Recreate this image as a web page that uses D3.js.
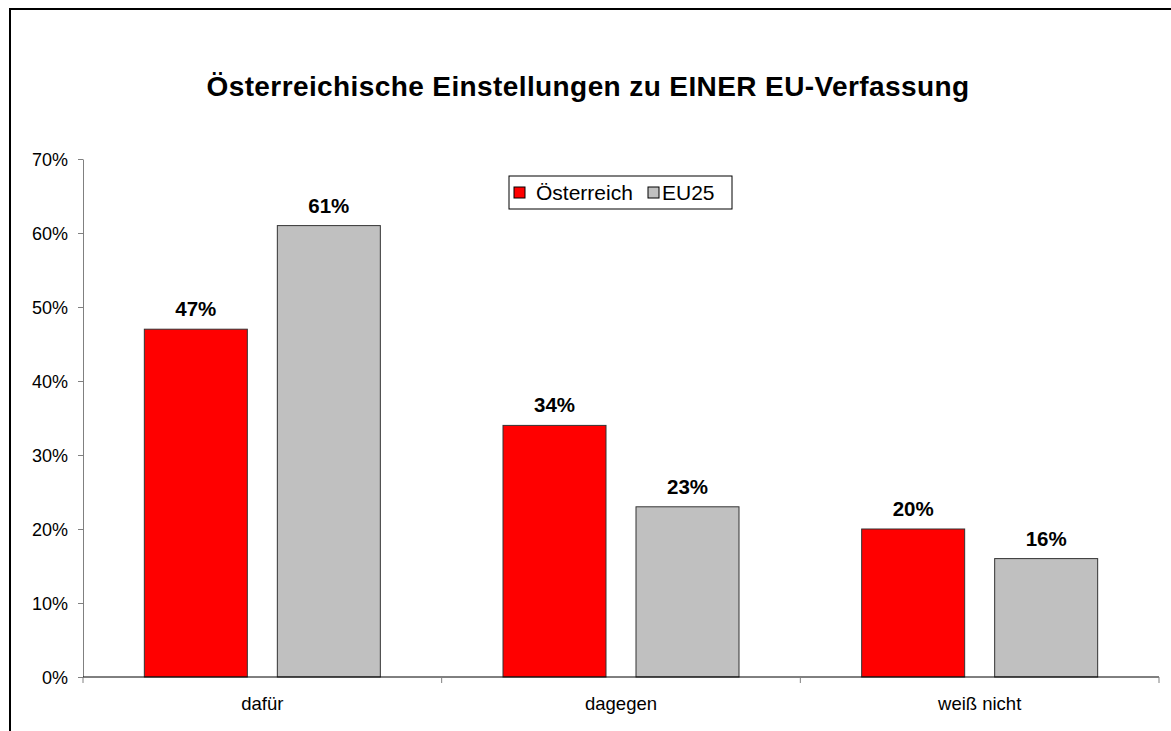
<!DOCTYPE html>
<html><head><meta charset="utf-8">
<script src="https://cdn.jsdelivr.net/npm/d3@7"></script>
<style>body{margin:0;background:#fff;}svg{display:block;font-family:"Liberation Sans",Arial,sans-serif;}</style>
</head><body>
<script>
const categories = ["dafür", "dagegen", "weiß nicht"];
const seriesNames = ["Österreich", "EU25"];
const austria = [47, 34, 20];
const eu25 = [61, 23, 16];
const yTicks = [0, 10, 20, 30, 40, 50, 60, 70];
const colors = ["#ff0000", "#c0c0c0"];

const W = 1171, H = 731;
const svg = d3.select("body").append("svg").attr("width", W).attr("height", H);

svg.append("rect").attr("x", 10).attr("y", 9).attr("width", 1170).attr("height", 740)
  .attr("fill", "#fff").attr("stroke", "#000").attr("stroke-width", 2);

const m = {left: 83, right: 1159, top: 159, bottom: 677};

svg.append("text").attr("x", 588).attr("y", 96).attr("text-anchor", "middle")
  .attr("font-size", 28).attr("font-weight", "bold").attr("letter-spacing", 0.4)
  .text("Österreichische Einstellungen zu EINER EU-Verfassung");

const x = d3.scaleBand().domain(categories).range([m.left, m.right]).paddingInner(0).paddingOuter(0);
const y = d3.scaleLinear().domain([0, 70]).range([m.bottom, m.top]);
const bw = 103, gap = 30;
const x1 = d3.scaleBand().domain(seriesNames).range([0, 2 * bw + gap]).paddingInner(gap / (bw + gap));

const data = categories.map((c, i) => ({cat: c, vals: [austria[i], eu25[i]]}));

// y axis
const yAxis = d3.axisLeft(y).tickValues(yTicks).tickFormat(d => d + "%").tickSize(5).tickSizeOuter(0);
const gy = svg.append("g").attr("transform", `translate(${m.left},0)`).call(yAxis);
gy.attr("font-family", null).attr("font-size", null);
gy.select(".domain").attr("stroke", "#808080");
gy.selectAll(".tick line").attr("stroke", "#808080");
gy.selectAll(".tick text").attr("font-size", 18).attr("fill", "#000").attr("x", -15).attr("dy", "0.35em");

// bars
const groups = svg.append("g").selectAll("g").data(data).join("g")
  .attr("transform", d => `translate(${x(d.cat) + (x.bandwidth() - (2 * bw + gap)) / 2},0)`);
groups.selectAll("rect").data(d => d.vals.map((v, j) => ({v, s: seriesNames[j], j}))).join("rect")
  .attr("x", d => x1(d.s)).attr("width", x1.bandwidth())
  .attr("y", d => y(d.v)).attr("height", d => y(0) - y(d.v))
  .attr("fill", d => colors[d.j]).attr("stroke", "#333").attr("stroke-width", 1);
groups.selectAll("text").data(d => d.vals.map((v, j) => ({v, s: seriesNames[j]}))).join("text")
  .attr("x", d => x1(d.s) + x1.bandwidth() / 2).attr("y", d => y(d.v) - 13)
  .attr("text-anchor", "middle").attr("font-size", 20.5).attr("font-weight", "bold")
  .text(d => d.v + "%");

// x axis
const gx = svg.append("g").attr("transform", `translate(0,${m.bottom})`);
gx.append("line").attr("x1", m.left).attr("x2", m.right).attr("stroke", "#000");
const bounds = categories.map(c => x(c)).concat([m.right]);
gx.selectAll("line.t").data(bounds).join("line").attr("class", "t")
  .attr("x1", d => d).attr("x2", d => d).attr("y1", 0).attr("y2", 6).attr("stroke", "#808080");
gx.selectAll("text").data(categories).join("text")
  .attr("x", d => x(d) + x.bandwidth() / 2).attr("y", 33)
  .attr("text-anchor", "middle").attr("font-size", 18.5).text(d => d);

// legend
const lg = svg.append("g").attr("transform", "translate(509,176)");
lg.append("rect").attr("width", 223).attr("height", 33).attr("fill", "#fff").attr("stroke", "#000").attr("stroke-width", 1);
const items = [{n: seriesNames[0], c: colors[0], sx: 5, tx: 27}, {n: seriesNames[1], c: colors[1], sx: 139, tx: 153}];
items.forEach(it => {
  lg.append("rect").attr("x", it.sx).attr("y", 11).attr("width", 11).attr("height", 11)
    .attr("fill", it.c).attr("stroke", "#000").attr("stroke-width", 1);
  lg.append("text").attr("x", it.tx).attr("y", 24).attr("font-size", 21).text(it.n);
});
</script>
</body></html>
